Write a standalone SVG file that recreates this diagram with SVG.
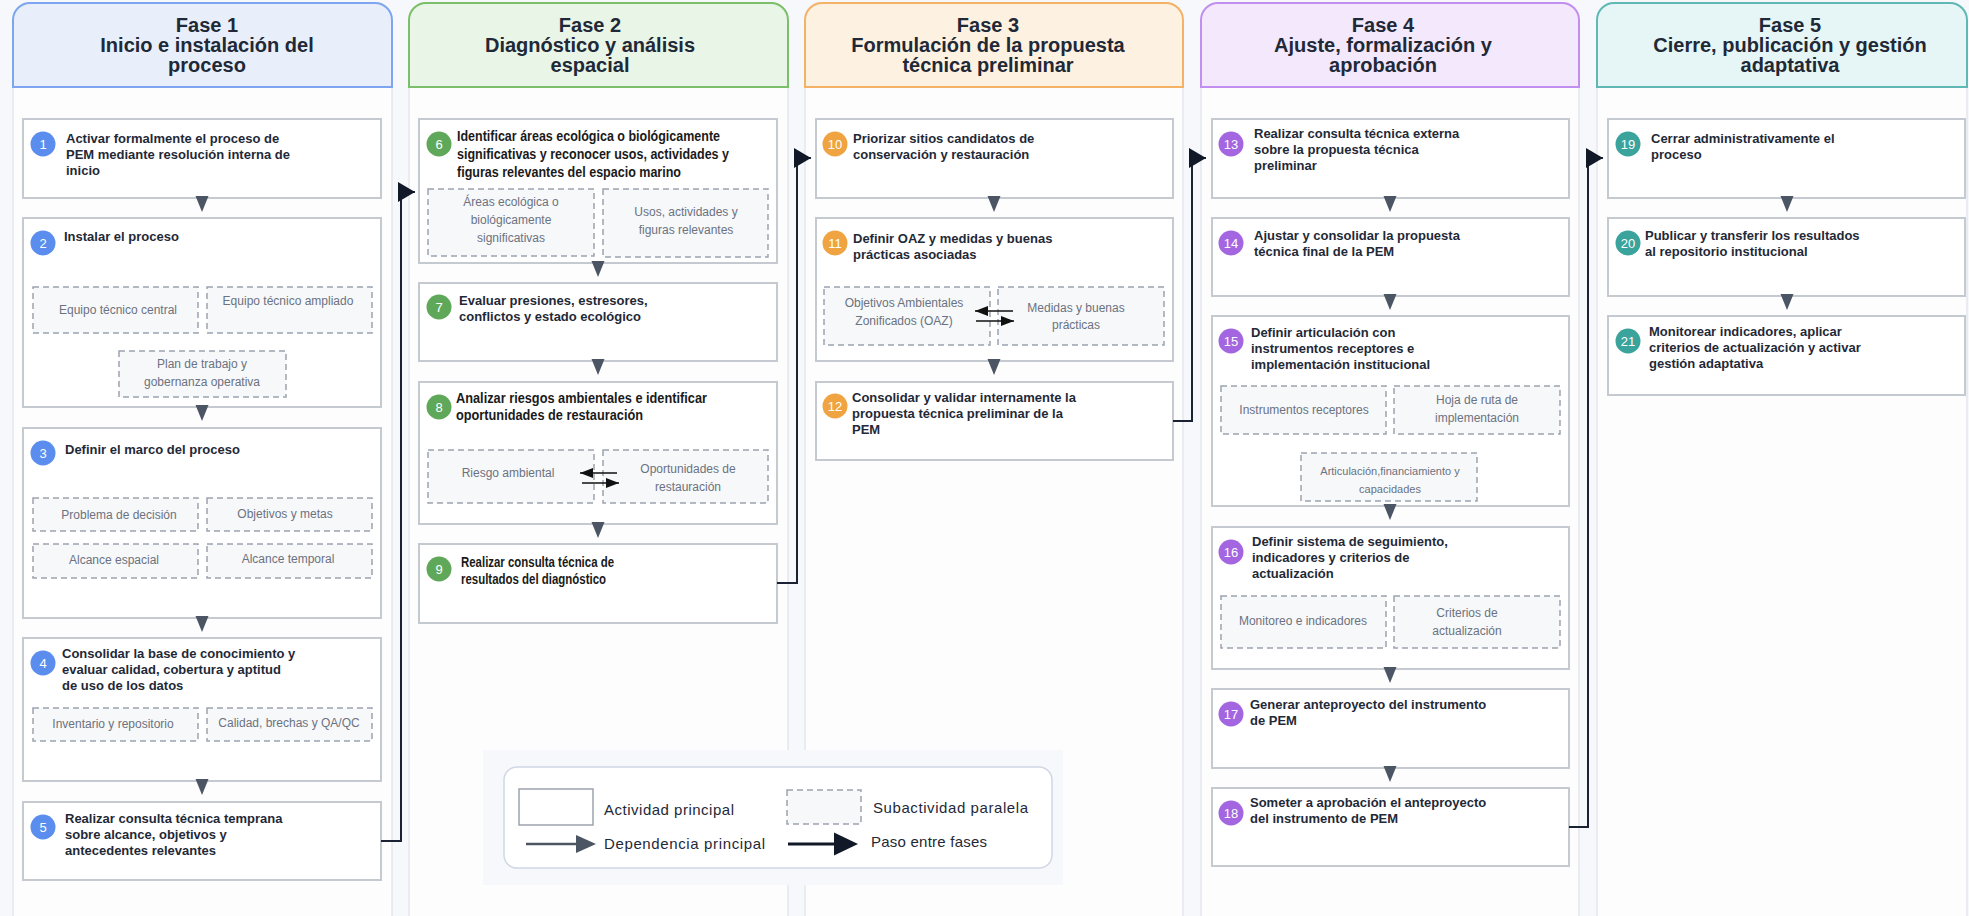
<svg xmlns="http://www.w3.org/2000/svg" xmlns:xlink="http://www.w3.org/1999/xlink" width="1969" height="916" viewBox="0 0 1969 916">
<defs>
<style>
.bg{fill:#f6f8fb}
.colbody{fill:#fdfdfe;stroke:#e3e7ed;stroke-width:1.5}
.ht{font-family:"Liberation Sans",Arial,sans-serif;font-weight:bold;font-size:20px;fill:#1f2937;text-anchor:middle}
.box{fill:#ffffff;stroke:#c5c9d0;stroke-width:2}
.sub{fill:#f7f8fa;stroke:#9ca3af;stroke-width:1.5;stroke-dasharray:6 4}
.t{font-family:"Liberation Sans",Arial,sans-serif;font-weight:bold;font-size:13px;fill:#1f2937}
.tc{font-family:"Liberation Sans",Arial,sans-serif;font-weight:bold;font-size:14px;fill:#1a1a1a}
.st{font-family:"Liberation Sans",Arial,sans-serif;font-size:12px;fill:#6b7280;text-anchor:middle}
.num{font-family:"Liberation Sans",Arial,sans-serif;font-size:13px;fill:#ffffff;text-anchor:middle}
.down{fill:#4b5563}
.phase{fill:none;stroke:#1a2233;stroke-width:2}
.bi{fill:none;stroke:#111111;stroke-width:1.5}
.lt{font-family:"Liberation Sans",Arial,sans-serif;font-size:15px;fill:#1f2937}
.c1{fill:#5b8def}.c2{fill:#5fa85a}.c3{fill:#f0a441}.c4{fill:#a366e0}.c5{fill:#3aa39c}
</style>
<marker id="ph" markerUnits="userSpaceOnUse" markerWidth="18" markerHeight="21" refX="17" refY="10" orient="auto">
<path d="M0,0 L17,10 L0,20 Z" fill="#111827"/>
</marker>
<marker id="sm" markerUnits="userSpaceOnUse" markerWidth="14" markerHeight="12" refX="13" refY="5" orient="auto">
<path d="M0,0 L13,5 L0,10 Z" fill="#111111"/>
</marker>
<path id="dn" d="M-6.5,0 H6.5 L0,16 Z"/>
</defs>

<rect class="bg" x="0" y="0" width="1969" height="916"/>

<g id="columns">
<rect class="colbody" x="13" y="87" width="379" height="840"/>
<rect class="colbody" x="409" y="87" width="379" height="840"/>
<rect class="colbody" x="805" y="87" width="378" height="840"/>
<rect class="colbody" x="1201" y="87" width="378" height="840"/>
<rect class="colbody" x="1597" y="87" width="370" height="840"/>
</g>

<g id="phase1-header">
<path d="M13,87 V20 A17,17 0 0 1 30,3 H375 A17,17 0 0 1 392,20 V87 Z" fill="#e8effb" stroke="#7ea6f0" stroke-width="2"/>
<text class="ht" x="207" y="32">Fase 1</text>
<text class="ht" x="207" y="52">Inicio e instalación del</text>
<text class="ht" x="207" y="72">proceso</text>
</g>
<g id="phase2-header">
<path d="M409,87 V20 A17,17 0 0 1 426,3 H771 A17,17 0 0 1 788,20 V87 Z" fill="#e9f5e6" stroke="#7bbf6a" stroke-width="2"/>
<text class="ht" x="590" y="32">Fase 2</text>
<text class="ht" x="590" y="52">Diagnóstico y análisis</text>
<text class="ht" x="590" y="72">espacial</text>
</g>
<g id="phase3-header">
<path d="M805,87 V20 A17,17 0 0 1 822,3 H1166 A17,17 0 0 1 1183,20 V87 Z" fill="#fdf1e2" stroke="#f4b266" stroke-width="2"/>
<text class="ht" x="988" y="32">Fase 3</text>
<text class="ht" x="988" y="52">Formulación de la propuesta</text>
<text class="ht" x="988" y="72">técnica preliminar</text>
</g>
<g id="phase4-header">
<path d="M1201,87 V20 A17,17 0 0 1 1218,3 H1562 A17,17 0 0 1 1579,20 V87 Z" fill="#f3e8fc" stroke="#c18ff0" stroke-width="2"/>
<text class="ht" x="1383" y="32">Fase 4</text>
<text class="ht" x="1383" y="52">Ajuste, formalización y</text>
<text class="ht" x="1383" y="72">aprobación</text>
</g>
<g id="phase5-header">
<path d="M1597,87 V20 A17,17 0 0 1 1614,3 H1950 A17,17 0 0 1 1967,20 V87 Z" fill="#e6f6f6" stroke="#5fb8b3" stroke-width="2"/>
<text class="ht" x="1790" y="32">Fase 5</text>
<text class="ht" x="1790" y="52">Cierre, publicación y gestión</text>
<text class="ht" x="1790" y="72">adaptativa</text>
</g>

<!-- Phase 1 nodes -->
<g id="n1">
<rect class="box" x="23" y="119" width="358" height="79"/>
<circle class="c1" cx="43" cy="144" r="12.5"/><text class="num" x="43" y="149">1</text>
<text class="t" x="66" y="143">Activar formalmente el proceso de</text>
<text class="t" x="66" y="159">PEM mediante resolución interna de</text>
<text class="t" x="66" y="175">inicio</text>
</g>
<g id="n2">
<rect class="box" x="23" y="218" width="358" height="189"/>
<circle class="c1" cx="43" cy="243" r="12.5"/><text class="num" x="43" y="248">2</text>
<text class="t" x="64" y="241">Instalar el proceso</text>
<rect class="sub" x="33" y="287" width="165" height="46"/>
<text class="st" x="118" y="314">Equipo técnico central</text>
<rect class="sub" x="207" y="287" width="165" height="46"/>
<text class="st" x="288" y="305">Equipo técnico ampliado</text>
<rect class="sub" x="119" y="351" width="167" height="46"/>
<text class="st" x="202" y="368">Plan de trabajo y</text>
<text class="st" x="202" y="386">gobernanza operativa</text>
</g>
<g id="n3">
<rect class="box" x="23" y="428" width="358" height="190"/>
<circle class="c1" cx="43" cy="453" r="12.5"/><text class="num" x="43" y="458">3</text>
<text class="t" x="65" y="454">Definir el marco del proceso</text>
<rect class="sub" x="33" y="498" width="165" height="33"/>
<text class="st" x="119" y="519">Problema de decisión</text>
<rect class="sub" x="207" y="498" width="165" height="33"/>
<text class="st" x="285" y="518">Objetivos y metas</text>
<rect class="sub" x="33" y="544" width="165" height="34"/>
<text class="st" x="114" y="564">Alcance espacial</text>
<rect class="sub" x="207" y="544" width="165" height="34"/>
<text class="st" x="288" y="563">Alcance temporal</text>
</g>
<g id="n4">
<rect class="box" x="23" y="638" width="358" height="143"/>
<circle class="c1" cx="43" cy="663" r="12.5"/><text class="num" x="43" y="668">4</text>
<text class="t" x="62" y="658">Consolidar la base de conocimiento y</text>
<text class="t" x="62" y="674">evaluar calidad, cobertura y aptitud</text>
<text class="t" x="62" y="690">de uso de los datos</text>
<rect class="sub" x="33" y="708" width="165" height="33"/>
<text class="st" x="113" y="728">Inventario y repositorio</text>
<rect class="sub" x="207" y="708" width="165" height="33"/>
<text class="st" x="289" y="727">Calidad, brechas y QA/QC</text>
</g>
<g id="n5">
<rect class="box" x="23" y="802" width="358" height="78"/>
<circle class="c1" cx="43" cy="827" r="12.5"/><text class="num" x="43" y="832">5</text>
<text class="t" x="65" y="823">Realizar consulta técnica temprana</text>
<text class="t" x="65" y="839">sobre alcance, objetivos y</text>
<text class="t" x="65" y="855">antecedentes relevantes</text>
</g>

<!-- Phase 2 nodes -->
<g id="n6">
<rect class="box" x="419" y="119" width="358" height="144"/>
<circle class="c2" cx="439" cy="144" r="12.5"/><text class="num" x="439" y="149">6</text>
<text class="tc" x="457" y="141" textLength="263" lengthAdjust="spacingAndGlyphs">Identificar áreas ecológica o biológicamente</text>
<text class="tc" x="457" y="159" textLength="272" lengthAdjust="spacingAndGlyphs">significativas y reconocer usos, actividades y</text>
<text class="tc" x="457" y="177" textLength="224" lengthAdjust="spacingAndGlyphs">figuras relevantes del espacio marino</text>
<rect class="sub" x="428" y="189" width="166" height="67"/>
<text class="st" x="511" y="206">Áreas ecológica o</text>
<text class="st" x="511" y="224">biológicamente</text>
<text class="st" x="511" y="242">significativas</text>
<rect class="sub" x="603" y="189" width="165" height="68"/>
<text class="st" x="686" y="216">Usos, actividades y</text>
<text class="st" x="686" y="234">figuras relevantes</text>
</g>
<g id="n7">
<rect class="box" x="419" y="283" width="358" height="78"/>
<circle class="c2" cx="439" cy="307" r="12.5"/><text class="num" x="439" y="312">7</text>
<text class="t" x="459" y="305">Evaluar presiones, estresores,</text>
<text class="t" x="459" y="321">conflictos y estado ecológico</text>
</g>
<g id="n8">
<rect class="box" x="419" y="382" width="358" height="142"/>
<circle class="c2" cx="439" cy="407" r="12.5"/><text class="num" x="439" y="412">8</text>
<text class="tc" x="456" y="403" textLength="251" lengthAdjust="spacingAndGlyphs">Analizar riesgos ambientales e identificar</text>
<text class="tc" x="456" y="420" textLength="187" lengthAdjust="spacingAndGlyphs">oportunidades de restauración</text>
<rect class="sub" x="428" y="450" width="166" height="53"/>
<text class="st" x="508" y="477">Riesgo ambiental</text>
<rect class="sub" x="603" y="450" width="165" height="53"/>
<text class="st" x="688" y="473">Oportunidades de</text>
<text class="st" x="688" y="491">restauración</text>
<path class="bi" d="M617,473 H580" marker-end="url(#sm)"/>
<path class="bi" d="M582,483 H619" marker-end="url(#sm)"/>
</g>
<g id="n9">
<rect class="box" x="419" y="544" width="358" height="79"/>
<circle class="c2" cx="439" cy="569" r="12.5"/><text class="num" x="439" y="574">9</text>
<text class="tc" x="461" y="567" textLength="153" lengthAdjust="spacingAndGlyphs">Realizar consulta técnica de</text>
<text class="tc" x="461" y="584" textLength="145" lengthAdjust="spacingAndGlyphs">resultados del diagnóstico</text>
</g>

<!-- Phase 3 nodes -->
<g id="n10">
<rect class="box" x="816" y="119" width="357" height="79"/>
<circle class="c3" cx="835" cy="144" r="12.5"/><text class="num" x="835" y="149">10</text>
<text class="t" x="853" y="143">Priorizar sitios candidatos de</text>
<text class="t" x="853" y="159">conservación y restauración</text>
</g>
<g id="n11">
<rect class="box" x="816" y="218" width="357" height="143"/>
<circle class="c3" cx="835" cy="243" r="12.5"/><text class="num" x="835" y="248">11</text>
<text class="t" x="853" y="243">Definir OAZ y medidas y buenas</text>
<text class="t" x="853" y="259">prácticas asociadas</text>
<rect class="sub" x="824" y="287" width="166" height="58"/>
<text class="st" x="904" y="307">Objetivos Ambientales</text>
<text class="st" x="904" y="325">Zonificados (OAZ)</text>
<rect class="sub" x="998" y="287" width="166" height="58"/>
<text class="st" x="1076" y="312">Medidas y buenas</text>
<text class="st" x="1076" y="329">prácticas</text>
<path class="bi" d="M1013,311 H975" marker-end="url(#sm)"/>
<path class="bi" d="M976,321 H1014" marker-end="url(#sm)"/>
</g>
<g id="n12">
<rect class="box" x="816" y="382" width="357" height="78"/>
<circle class="c3" cx="835" cy="406" r="12.5"/><text class="num" x="835" y="411">12</text>
<text class="t" x="852" y="402">Consolidar y validar internamente la</text>
<text class="t" x="852" y="418">propuesta técnica preliminar de la</text>
<text class="t" x="852" y="434">PEM</text>
</g>

<!-- Phase 4 nodes -->
<g id="n13">
<rect class="box" x="1212" y="119" width="357" height="79"/>
<circle class="c4" cx="1231" cy="144" r="12.5"/><text class="num" x="1231" y="149">13</text>
<text class="t" x="1254" y="138">Realizar consulta técnica externa</text>
<text class="t" x="1254" y="154">sobre la propuesta técnica</text>
<text class="t" x="1254" y="170">preliminar</text>
</g>
<g id="n14">
<rect class="box" x="1212" y="218" width="357" height="78"/>
<circle class="c4" cx="1231" cy="243" r="12.5"/><text class="num" x="1231" y="248">14</text>
<text class="t" x="1254" y="240">Ajustar y consolidar la propuesta</text>
<text class="t" x="1254" y="256">técnica final de la PEM</text>
</g>
<g id="n15">
<rect class="box" x="1212" y="316" width="357" height="190"/>
<circle class="c4" cx="1231" cy="341" r="12.5"/><text class="num" x="1231" y="346">15</text>
<text class="t" x="1251" y="337">Definir articulación con</text>
<text class="t" x="1251" y="353">instrumentos receptores e</text>
<text class="t" x="1251" y="369">implementación institucional</text>
<rect class="sub" x="1221" y="386" width="165" height="48"/>
<text class="st" x="1304" y="414">Instrumentos receptores</text>
<rect class="sub" x="1394" y="386" width="166" height="48"/>
<text class="st" x="1477" y="404">Hoja de ruta de</text>
<text class="st" x="1477" y="422">implementación</text>
<rect class="sub" x="1301" y="453" width="176" height="48"/>
<text class="st" x="1390" y="475" style="font-size:11px">Articulación,financiamiento y</text>
<text class="st" x="1390" y="493" style="font-size:11px">capacidades</text>
</g>
<g id="n16">
<rect class="box" x="1212" y="527" width="357" height="142"/>
<circle class="c4" cx="1231" cy="552" r="12.5"/><text class="num" x="1231" y="557">16</text>
<text class="t" x="1252" y="546">Definir sistema de seguimiento,</text>
<text class="t" x="1252" y="562">indicadores y criterios de</text>
<text class="t" x="1252" y="578">actualización</text>
<rect class="sub" x="1221" y="596" width="165" height="52"/>
<text class="st" x="1303" y="625">Monitoreo e indicadores</text>
<rect class="sub" x="1394" y="596" width="166" height="52"/>
<text class="st" x="1467" y="617">Criterios de</text>
<text class="st" x="1467" y="635">actualización</text>
</g>
<g id="n17">
<rect class="box" x="1212" y="689" width="357" height="79"/>
<circle class="c4" cx="1231" cy="714" r="12.5"/><text class="num" x="1231" y="719">17</text>
<text class="t" x="1250" y="709">Generar anteproyecto del instrumento</text>
<text class="t" x="1250" y="725">de PEM</text>
</g>
<g id="n18">
<rect class="box" x="1212" y="788" width="357" height="78"/>
<circle class="c4" cx="1231" cy="813" r="12.5"/><text class="num" x="1231" y="818">18</text>
<text class="t" x="1250" y="807">Someter a aprobación el anteproyecto</text>
<text class="t" x="1250" y="823">del instrumento de PEM</text>
</g>

<!-- Phase 5 nodes -->
<g id="n19">
<rect class="box" x="1608" y="119" width="357" height="79"/>
<circle class="c5" cx="1628" cy="144" r="12.5"/><text class="num" x="1628" y="149">19</text>
<text class="t" x="1651" y="143">Cerrar administrativamente el</text>
<text class="t" x="1651" y="159">proceso</text>
</g>
<g id="n20">
<rect class="box" x="1608" y="218" width="357" height="78"/>
<circle class="c5" cx="1628" cy="243" r="12.5"/><text class="num" x="1628" y="248">20</text>
<text class="t" x="1645" y="240">Publicar y transferir los resultados</text>
<text class="t" x="1645" y="256">al repositorio institucional</text>
</g>
<g id="n21">
<rect class="box" x="1608" y="316" width="357" height="79"/>
<circle class="c5" cx="1628" cy="341" r="12.5"/><text class="num" x="1628" y="346">21</text>
<text class="t" x="1649" y="336">Monitorear indicadores, aplicar</text>
<text class="t" x="1649" y="352">criterios de actualización y activar</text>
<text class="t" x="1649" y="368">gestión adaptativa</text>
</g>

<g id="connectors">
<use class="down" xlink:href="#dn" x="202" y="196"/>
<use class="down" xlink:href="#dn" x="202" y="405"/>
<use class="down" xlink:href="#dn" x="202" y="616"/>
<use class="down" xlink:href="#dn" x="202" y="779"/>
<use class="down" xlink:href="#dn" x="598" y="261"/>
<use class="down" xlink:href="#dn" x="598" y="359"/>
<use class="down" xlink:href="#dn" x="598" y="522"/>
<use class="down" xlink:href="#dn" x="994" y="196"/>
<use class="down" xlink:href="#dn" x="994" y="359"/>
<use class="down" xlink:href="#dn" x="1390" y="196"/>
<use class="down" xlink:href="#dn" x="1390" y="294"/>
<use class="down" xlink:href="#dn" x="1390" y="504"/>
<use class="down" xlink:href="#dn" x="1390" y="667"/>
<use class="down" xlink:href="#dn" x="1390" y="766"/>
<use class="down" xlink:href="#dn" x="1787" y="196"/>
<use class="down" xlink:href="#dn" x="1787" y="294"/>
<path class="phase" d="M381,841 H401 V192 H415" marker-end="url(#ph)"/>
<path class="phase" d="M777,583 H797 V158 H811" marker-end="url(#ph)"/>
<path class="phase" d="M1173,421 H1192 V158 H1206" marker-end="url(#ph)"/>
<path class="phase" d="M1569,827 H1588 V158 H1603" marker-end="url(#ph)"/>
</g>

<g id="legend">
<rect class="bg" x="483" y="750" width="580" height="135"/>
<rect x="504" y="767" width="548" height="101" rx="13" fill="#ffffff" stroke="#cfd8e3" stroke-width="1.5"/>
<rect x="519" y="789" width="74" height="36" fill="#ffffff" stroke="#9ca3af" stroke-width="1.5"/>
<text class="lt" x="604" y="815" textLength="130" lengthAdjust="spacing">Actividad principal</text>
<rect class="sub" x="787" y="790" width="74" height="34"/>
<text class="lt" x="873" y="813" textLength="155" lengthAdjust="spacing">Subactividad paralela</text>
<path d="M526,844 H580" stroke="#4b5563" stroke-width="2.5" fill="none"/>
<path d="M576,835 L596,844 L576,853 Z" fill="#4b5563"/>
<text class="lt" x="604" y="849" textLength="161" lengthAdjust="spacing">Dependencia principal</text>
<path d="M788,844 H838" stroke="#111827" stroke-width="3" fill="none"/>
<path d="M834,832.5 L858,844 L834,855.5 Z" fill="#111827"/>
<text class="lt" x="871" y="847" textLength="116" lengthAdjust="spacing">Paso entre fases</text>
</g>
</svg>
